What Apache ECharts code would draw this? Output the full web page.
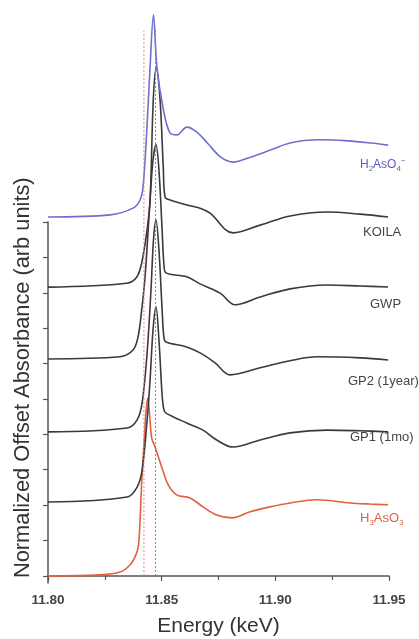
<!DOCTYPE html>
<html>
<head>
<meta charset="utf-8">
<script src="https://cdn.jsdelivr.net/npm/echarts@6/dist/echarts.min.js"></script>
<style>
html,body{margin:0;padding:0;background:#fff;}
#chart{width:419px;height:639px;}
</style>
</head>
<body>
<div id="chart"></div>
<script>
// ---- data (energy in keV, normalized absorbance relative to each curve's baseline) ----
const seriesNames = ['H3AsO3', 'GP1 (1mo)', 'GP2 (1year)', 'GWP', 'KOILA', 'H2AsO4-'];
const offsets = [0, 2.09, 4.07, 6.13, 8.16, 10.14];

const energyRed = [11.800, 11.8229, 11.8317, 11.8361, 11.8383, 11.8397, 11.8405, 11.8412, 11.8422, 11.8431, 11.8439, 11.8447, 11.8456, 11.8471, 11.8500, 11.8529, 11.8566, 11.8625, 11.8682, 11.8742, 11.8809, 11.8889, 11.8977, 11.9065, 11.9183, 11.9329, 11.9417, 11.9496];
const absRed = [0, 0.03, 0.11, 0.31, 0.54, 0.82, 1.58, 2.63, 3.70, 4.63, 5.03, 4.55, 3.90, 3.64, 3.08, 2.57, 2.29, 2.20, 1.95, 1.72, 1.64, 1.81, 1.95, 2.06, 2.15, 2.06, 2.03, 2.01];

const energyGP1 = [11.800, 11.8348, 11.8392, 11.8414, 11.8436, 11.8449, 11.8462, 11.8475, 11.8488, 11.8502, 11.8510, 11.8519, 11.8610, 11.8682, 11.8742, 11.8814, 11.8933, 11.9065, 11.9227, 11.9373, 11.9496];
const absGP1 = [0, 0.14, 0.42, 0.90, 2.32, 3.45, 4.86, 5.51, 4.58, 3.02, 2.60, 2.51, 2.23, 2.03, 1.75, 1.55, 1.75, 1.95, 2.03, 2.01, 1.98];

const energyGP2 = [11.800, 11.8348, 11.8392, 11.8414, 11.8436, 11.8453, 11.8464, 11.8475, 11.8488, 11.8502, 11.8510, 11.8519, 11.8610, 11.8669, 11.8735, 11.8801, 11.8933, 11.9065, 11.9183, 11.9373, 11.9496];
const absGP2 = [0, 0.11, 0.34, 0.82, 2.23, 4.01, 5.42, 5.99, 5.14, 3.45, 2.66, 2.54, 2.40, 2.23, 1.95, 1.61, 1.81, 2.01, 2.12, 2.09, 2.03];

const energyGWP = [11.800, 11.8317, 11.8374, 11.8396, 11.8412, 11.8427, 11.8449, 11.8462, 11.8475, 11.8488, 11.8502, 11.8510, 11.8519, 11.8610, 11.8669, 11.8757, 11.8823, 11.8933, 11.9065, 11.9227, 11.9373, 11.9496];
const absGWP = [0, 0.06, 0.25, 0.62, 1.38, 2.32, 4.49, 5.62, 6.05, 5.34, 3.64, 2.66, 2.43, 2.32, 2.12, 1.86, 1.53, 1.75, 1.98, 2.09, 2.06, 2.03];

const energyKOILA = [11.800, 11.8346, 11.8390, 11.8412, 11.8434, 11.8449, 11.8463, 11.8476, 11.8493, 11.8507, 11.8515, 11.8537, 11.8610, 11.8669, 11.8713, 11.8814, 11.8933, 11.9065, 11.9227, 11.9373, 11.9496];
const absKOILA = [0, 0.11, 0.28, 0.68, 1.53, 2.46, 5.28, 6.19, 5.28, 3.39, 2.54, 2.46, 2.32, 2.23, 2.09, 1.53, 1.75, 2.01, 2.12, 2.06, 1.98];

const energyBlue = [11.800, 11.8273, 11.8374, 11.8405, 11.8418, 11.8434, 11.8449, 11.8464, 11.8479, 11.8508, 11.8537, 11.8567, 11.8611, 11.8655, 11.8701, 11.8760, 11.8815, 11.8890, 11.8978, 11.9065, 11.9186, 11.9318, 11.9420, 11.9496];
const absBlue = [0, 0.06, 0.25, 0.48, 0.85, 2.37, 4.24, 5.71, 4.24, 3.02, 2.37, 2.32, 2.54, 2.40, 2.09, 1.69, 1.55, 1.69, 1.89, 2.09, 2.18, 2.15, 2.09, 2.03];

const refEnergies = [11.8422, 11.8473];   // dotted reference lines
const refSpan = [0, 15.4];

const xTicks = ['11.80', '11.85', '11.90', '11.95'];
const yTickValues = [0, 1, 2, 3, 4, 5, 6, 7, 8, 9, 10];

// ---- chart ----
const energies = [energyRed, energyGP1, energyGP2, energyGWP, energyKOILA, energyBlue];
const values = [absRed, absGP1, absGP2, absGWP, absKOILA, absBlue];
const colors = ['#e2603e', '#3a3a3a', '#3a3a3a', '#3a3a3a', '#3a3a3a', '#6f6fd0'];
const refColors = ['#e08a78', '#7a7ac8'];
const FONT = 'Liberation Sans, Arial, sans-serif';

const chart = echarts.init(document.getElementById('chart'), null, {renderer: 'canvas'});

const series = seriesNames.map((n, i) => ({
  name: n,
  type: 'line',
  xAxisIndex: 0, yAxisIndex: 0,
  data: energies[i].map((e, k) => [e, values[i][k] + offsets[i]]),
  showSymbol: false,
  smooth: 0.35,
  lineStyle: {color: colors[i], width: 1.6},
  z: 3
}));

refEnergies.forEach((e, i) => {
  series.push({
    name: 'ref' + i,
    type: 'line',
    xAxisIndex: 0, yAxisIndex: 0,
    data: refSpan.map(v => [e, v]),
    showSymbol: false,
    lineStyle: {color: refColors[i], width: 1, type: [2, 2]},
    z: 5
  });
});

function txt(left, top, text, color, rich, size) {
  return {type: 'text', left: left, top: top,
    style: {text: text, fill: color, rich: rich, fontFamily: FONT, fontSize: size || 13}};
}
const subRich = (color, size) => ({
  b: {fontSize: size, lineHeight: 16, fill: color, fontFamily: FONT},
  sub: {fontSize: 8, lineHeight: 8, verticalAlign: 'bottom', fill: color, fontFamily: FONT},
  sup: {fontSize: 8, lineHeight: 8, verticalAlign: 'top', fill: color, fontFamily: FONT}
});

const option = {
  animation: false,
  backgroundColor: '#fff',
  grid: [
    {left: 48, right: 30, top: 0, bottom: 56, containLabel: false, outerBoundsMode: 'none'},
    {left: 48, right: 30, top: 222, bottom: 56, containLabel: false, outerBoundsMode: 'none'}
  ],
  xAxis: [
    {
      gridIndex: 0, type: 'value', min: 11.80, max: 11.95, interval: 0.05,
      axisLine: {show: true, lineStyle: {color: '#555', width: 1.5}},
      axisTick: {show: true, length: 5, lineStyle: {color: '#555', width: 1.2}},
      minorTick: {show: true, splitNumber: 2, length: 4, lineStyle: {color: '#555', width: 1.2}},
      axisLabel: {margin: 10, color: '#444', fontSize: 13.5, fontWeight: 'bold', fontFamily: FONT,
        formatter: (v) => xTicks.find(t => Math.abs(parseFloat(t) - v) < 1e-6) || ''},
      splitLine: {show: false},
      name: 'Energy (keV)', nameLocation: 'middle', nameGap: 33,
      nameTextStyle: {fontSize: 21, color: '#333', fontFamily: FONT}
    },
    {gridIndex: 1, type: 'value', min: 11.80, max: 11.95, show: false}
  ],
  yAxis: [
    {gridIndex: 0, type: 'value', min: -0.2, max: 16.27, show: false},
    {
      gridIndex: 1, type: 'value', min: -0.2, max: 10,
      axisLine: {show: true, lineStyle: {color: '#555', width: 1.5}},
      axisTick: {show: true, length: 5, customValues: yTickValues, lineStyle: {color: '#555', width: 1.2}},
      axisLabel: {show: false},
      splitLine: {show: false}
    }
  ],
  series: series,
  graphic: [
    {type: 'text', x: 12, y: 578, rotation: Math.PI / 2,
      style: {text: 'Normalized Offset Absorbance (arb units)', fill: '#333', fontSize: 21.8, fontFamily: FONT,
        align: 'left', verticalAlign: 'top'}},
    txt(360, 157, '{b|H}{sub|2}{b|AsO}{sub|4}{sup|−}', '#5b5bc0', subRich('#5b5bc0', 12), 12),
    txt(363, 226, 'KOILA', '#444'),
    txt(370, 298, 'GWP', '#444'),
    txt(348, 375, 'GP2 (1year)', '#444'),
    txt(350, 431, 'GP1 (1mo)', '#444'),
    txt(360, 512, '{b|H}{sub|3}{b|AsO}{sub|3}', '#e2603e', subRich('#e2603e', 13), 13)
  ]
};
chart.setOption(option);
</script>
</body>
</html>
